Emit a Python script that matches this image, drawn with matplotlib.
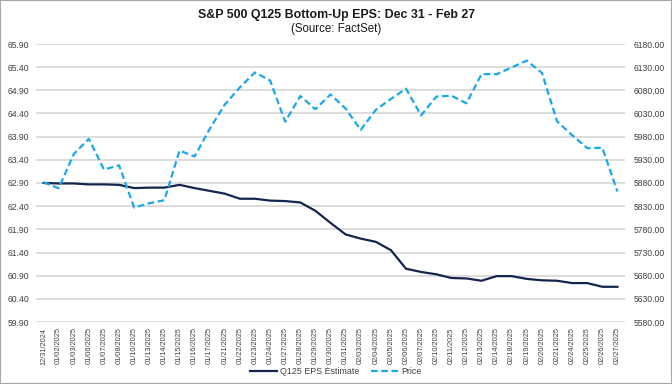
import matplotlib
matplotlib.use("Agg")
import matplotlib.pyplot as plt
from matplotlib.patches import Rectangle

plt.rcParams['font.family'] = ['Liberation Sans', 'DejaVu Sans']

dates = ["12/31/2024", "01/02/2025", "01/03/2025", "01/06/2025", "01/07/2025", "01/08/2025",
         "01/10/2025", "01/13/2025", "01/14/2025", "01/15/2025", "01/16/2025", "01/17/2025",
         "01/21/2025", "01/22/2025", "01/23/2025", "01/24/2025", "01/27/2025", "01/28/2025",
         "01/29/2025", "01/30/2025", "01/31/2025", "02/03/2025", "02/04/2025", "02/05/2025",
         "02/06/2025", "02/07/2025", "02/10/2025", "02/11/2025", "02/12/2025", "02/13/2025",
         "02/14/2025", "02/18/2025", "02/19/2025", "02/20/2025", "02/21/2025", "02/24/2025",
         "02/25/2025", "02/26/2025", "02/27/2025"]

eps = [62.90, 62.89, 62.89, 62.87, 62.87, 62.86, 62.79, 62.80, 62.80, 62.86,
       62.79, 62.73, 62.67, 62.56, 62.56, 62.52, 62.51, 62.48, 62.30, 62.04,
       61.79, 61.70, 61.63, 61.45, 61.05, 60.98, 60.93, 60.85, 60.84, 60.79,
       60.89, 60.89, 60.83, 60.80, 60.79, 60.74, 60.74, 60.66, 60.66]

price = [5881.63, 5868.55, 5942.47, 5975.38, 5909.03, 5918.25, 5827.04, 5836.22, 5842.91,
         5949.91, 5937.34, 5996.66, 6049.24, 6086.37, 6118.71, 6101.24, 6012.28, 6067.70,
         6039.31, 6071.17, 6040.53, 5994.57, 6037.88, 6061.48, 6083.57, 6025.99, 6066.44,
         6068.50, 6051.97, 6115.07, 6114.63, 6129.58, 6144.15, 6117.52, 6013.13, 5983.25,
         5955.25, 5956.06, 5861.57]

left_ticks = [59.90 + 0.5 * i for i in range(13)]
right_ticks = [5580 + 50 * i for i in range(13)]

W, H = 672, 384
fig = plt.figure(figsize=(W / 100, H / 100), dpi=100)
ax = fig.add_axes([36 / W, (H - 322) / H, (625 - 36) / W, (322 - 44) / H])
ax2 = ax.twinx()

x = list(range(len(dates)))
l1, = ax.plot(x, eps, color='#14254F', lw=1.6, label='Q125 EPS Estimate', zorder=3)
l2, = ax2.plot(x, price, color='#1AA7EC', lw=1.6, ls=(0, (3, 1.6)), label='Price', zorder=3)

ax.set_xlim(-0.5, len(dates) - 0.5)
ax.set_ylim(59.90, 65.90)
ax2.set_ylim(5580, 6180)
ax.set_yticks(left_ticks)
ax.set_yticklabels([f"{v:.2f}" for v in left_ticks])
ax2.set_yticks(right_ticks)
ax2.set_yticklabels([f"{v:.2f}" for v in right_ticks])
ax.set_xticks(x)
ax.set_xticklabels(dates, rotation=90, fontsize=5.3, color='#404040')

ax.grid(axis='y', color='#D9D9D9', lw=1.3)
ax.set_axisbelow(True)
for a in (ax, ax2):
    for s in a.spines.values():
        s.set_visible(False)
ax.tick_params(axis='y', length=0, pad=5, labelsize=6.2, labelcolor='#404040')
ax2.tick_params(axis='y', length=0, pad=6, labelsize=6.2, labelcolor='#404040')
ax.tick_params(axis='x', length=0, pad=4)

fig.text(0.5, 1 - 15 / H, "S&P 500 Q125 Bottom-Up EPS: Dec 31 - Feb 27",
         ha='center', va='center', fontsize=8.9, fontweight='bold', color='#1a1a1a')
fig.text(0.5, 1 - 29 / H, "(Source: FactSet)", ha='center', va='center',
         fontsize=8.3, color='#1a1a1a')

fig.legend(handles=[l1, l2], loc='center', bbox_to_anchor=(0.5, 1 - 372 / H), ncol=2,
           frameon=False, fontsize=6.4, handlelength=3.0, columnspacing=1.3, handletextpad=0.4,
           labelcolor='#404040')

fig.patches.append(Rectangle((0, 0), 1, 1, transform=fig.transFigure, fill=False,
                             edgecolor='#A6A6A6', lw=1.5))

fig.savefig("out.png", dpi=100)
